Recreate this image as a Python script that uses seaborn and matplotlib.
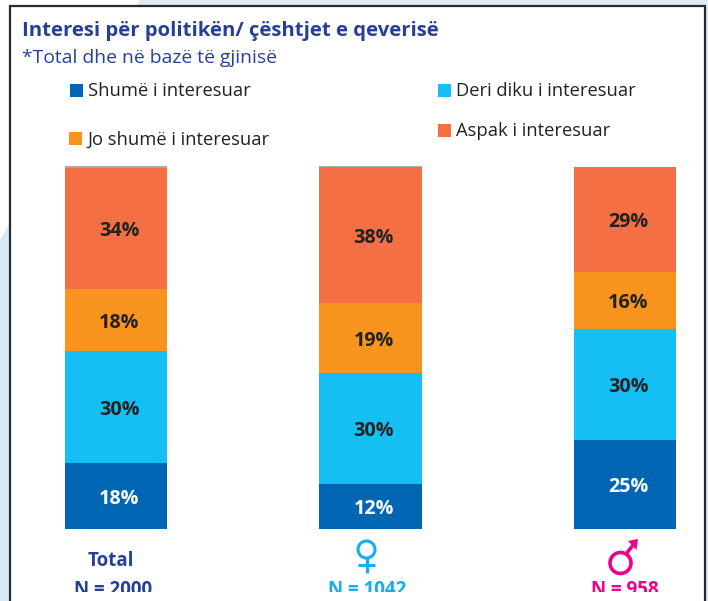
import matplotlib
matplotlib.use("Agg")
import matplotlib.pyplot as plt
from matplotlib.patches import Rectangle, Circle
import numpy as np
import pandas as pd
import seaborn as sns

W, H = 708, 601
groups = ["Total", "Femra", "Meshkuj"]
series = ["Shumë i interesuar", "Deri diku i interesuar", "Jo shumë i interesuar", "Aspak i interesuar", "Pa përgjigje"]
shume = [18.2, 12.4, 24.6]
deri = [30.9, 30.7, 30.7]
jo = [17.3, 19.3, 15.7]
aspak = [33.5, 37.6, 29.0]
pa = [0.4, 0.4, 0.0]
labels_shume = ["18%", "12%", "25%"]
labels_deri = ["30%", "30%", "30%"]
labels_jo = ["18%", "19%", "16%"]
labels_aspak = ["34%", "38%", "29%"]
n_labels = ["N = 2000", "N = 1042", "N = 958"]
colors = ["#0066B3", "#16BFF3", "#F9951F", "#F47044", "#A7A9AC"]
navy = "#26409A"
cyan = "#16AEEF"
pink = "#EC008C"

sns.set_theme(style="white")
plt.rcParams["font.family"] = ["Open Sans", "DejaVu Sans"]

fig = plt.figure(figsize=(W / 100, H / 100), dpi=100, facecolor="#D9EAF6")
bg = fig.add_axes([0, 0, 1, 1], zorder=0)
bg.set_xlim(0, W); bg.set_ylim(H, 0); bg.axis("off")
bg.fill([0, 140, 0], [0, 0, 240], color="white", lw=0, zorder=0.5)
bg.add_patch(Rectangle((9.5, 5.5), 695, 640, fc="white", ec="#2A2A2A", lw=1.6, zorder=1))

x0, x1, ytop, ybot = 40, 701, 166, 529
ax = fig.add_axes([x0 / W, 1 - ybot / H, (x1 - x0) / W, (ybot - ytop) / H], zorder=1)
ax.patch.set_alpha(0)

values = [shume, deri, jo, aspak, pa]
texts = [labels_shume, labels_deri, labels_jo, labels_aspak, None]
text_cols = ["white", "#222222", "#222222", "#222222", None]
bottom = np.zeros(3)
for name, vals, col, lab, tc in zip(series, values, colors, texts, text_cols):
    df = pd.DataFrame({"g": groups, "v": vals})
    sns.barplot(data=df, x="g", y="v", color=col, saturation=1, width=0.401,
                bottom=bottom, ax=ax, order=groups, linewidth=0)
    if lab:
        for i, t in enumerate(lab):
            ax.annotate(t, (i + 0.012, bottom[i] + vals[i] / 2), xytext=(0, -1.8), textcoords="offset points",
                        ha="center", va="center", color=tc, fontsize=14.2, fontweight="bold")
    bottom = bottom + np.array(vals)

step = 254.5
center0 = 116
ax.set_xlim((x0 - center0) / step, (x1 - center0) / step)
ax.set_ylim(0, 100.4)
ax.axis("off")

ot = fig.add_axes([0, 0, 1, 1], zorder=2)
ot.patch.set_alpha(0)
ot.set_xlim(0, W); ot.set_ylim(H, 0); ot.axis("off")
ot.text(22, 31, "Interesi për politikën/ çështjet e qeverisë", color=navy, fontsize=14.6,
        fontweight="bold", va="center")
ot.text(22, 58, "*Total dhe në bazë të gjinisë", color=navy, fontsize=13.9, va="center")

leg = [(70, 90, 0), (438, 90, 1), (69, 138, 2), (438, 130, 3)]
for (lx, ly, k) in leg:
    ot.add_patch(Rectangle((lx, ly - 6), 13, 13, fc=colors[k], ec="none"))
    ot.text(lx + 18, ly + 1.5, series[k], color="#222222", fontsize=13.25, va="center")

clip = Rectangle((0, 0), W, 592, transform=ot.transData)
ot.text(111, 561, groups[0], color=navy, fontsize=13.5, fontweight="bold", ha="center", va="center")
for cx, t, c in zip([113, 367, 625], n_labels, [navy, cyan, pink]):
    tx = ot.text(cx, 590, t, color=c, fontsize=13.5, fontweight="bold", ha="center", va="center",
                 clip_on=True)
    tx.set_clip_path(clip)

# Female symbol
ot.add_patch(Circle((366.5, 549.5), 8.5, fc="none", ec=cyan, lw=2.2))
ot.plot([366.5, 366.5], [558, 573], color=cyan, lw=2.2, solid_capstyle="butt")
ot.plot([358, 375], [565, 565], color=cyan, lw=2.2, solid_capstyle="butt")

# Male symbol
ot.add_patch(Circle((620.5, 563), 10.5, fc="none", ec=pink, lw=2.6))
ot.plot([626, 635.5], [554, 542], color=pink, lw=2.6, solid_capstyle="butt")
ot.fill([628, 638, 636.5], [541, 539, 550], color=pink, lw=0)

fig.savefig("out.png", dpi=100, facecolor=fig.get_facecolor())
